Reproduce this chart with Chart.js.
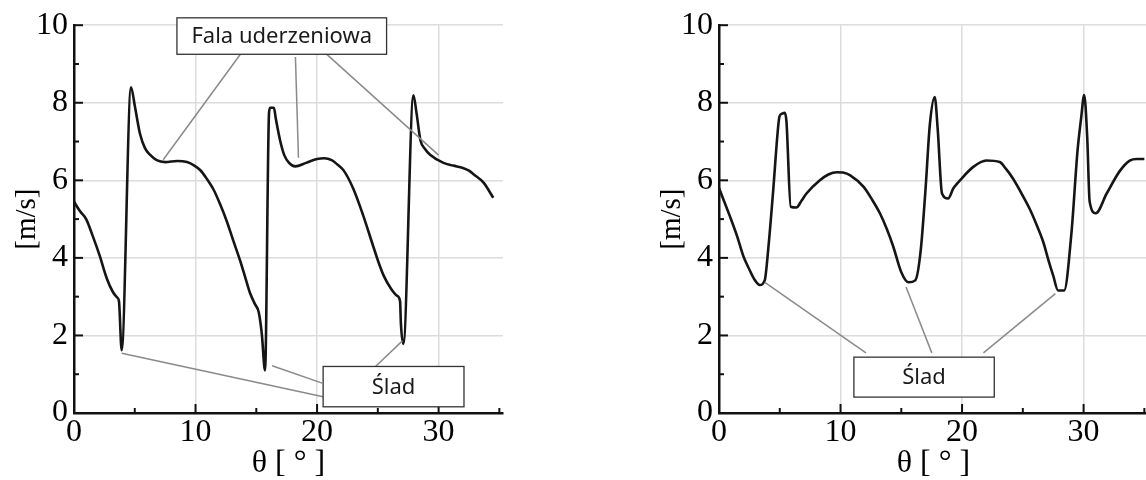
<!DOCTYPE html>
<html>
<head>
<meta charset="utf-8">
<script src="https://cdn.jsdelivr.net/npm/chart.js@4"></script>
<style>
  html, body { margin: 0; padding: 0; background: #fff; overflow: hidden; width: 1146px; height: 480px; }
  canvas { position: absolute; top: 0; }
  #lewy { left: 0; }
  #prawy { left: 645px; }
</style>
</head>
<body>
<canvas id="lewy" width="520" height="480"></canvas>
<canvas id="prawy" width="520" height="480"></canvas>
<script>
// dane
const xTicks = [0, 10, 20, 30];
const yTicks = [0, 2, 4, 6, 8, 10];
const xMinor = [5, 15, 25, 35];
const yMinor = [1, 3, 5, 7, 9];

const leftTheta = [0, 0.5, 1.0, 1.5, 2.1, 2.7, 3.2, 3.55, 3.7, 3.92, 4.69, 5.02, 5.43, 5.84, 6.25, 6.8, 7.5, 8.5, 9.3, 9.9, 10.4, 10.9, 11.5, 12.0, 12.6, 13.1, 13.7, 14.2, 14.5, 14.9, 15.2, 15.45, 15.72, 16.05, 16.15, 16.45, 16.6, 16.95, 17.3, 17.7, 18.2, 19.1, 20.0, 20.6, 21.2, 21.7, 22.2, 23.0, 23.8, 24.6, 25.1, 25.5, 26.1, 26.6, 26.83, 26.9, 27.1, 27.93, 28.2, 28.5, 28.9, 29.3, 30.4, 31.2, 32.0, 32.5, 32.9, 33.7, 34.5];
const leftSpeed = [5.45, 5.2, 5.0, 4.6, 4.07, 3.47, 3.12, 2.98, 2.88, 1.62, 8.4, 7.89, 7.2, 6.83, 6.66, 6.52, 6.47, 6.5, 6.47, 6.38, 6.26, 6.05, 5.75, 5.4, 4.92, 4.45, 3.9, 3.38, 3.08, 2.8, 2.6, 2.05, 1.1, 7.75, 7.87, 7.87, 7.6, 7.04, 6.65, 6.45, 6.36, 6.45, 6.55, 6.57, 6.52, 6.4, 6.25, 5.77, 5.09, 4.32, 3.85, 3.53, 3.2, 3.02, 2.88, 2.3, 1.78, 8.19, 7.7, 7.04, 6.8, 6.66, 6.45, 6.38, 6.32, 6.25, 6.15, 5.94, 5.55];

const rightTheta = [0, 0.9, 1.5, 2.0, 2.5, 2.9, 3.35, 3.76, 4.05, 4.45, 4.86, 4.98, 5.2, 5.41, 5.55, 5.9, 6.37, 6.8, 7.2, 8.3, 9.0, 9.7, 10.2, 10.8, 11.9, 12.6, 13.24, 13.8, 14.33, 15.0, 15.6, 16.15, 16.6, 17.0, 17.35, 17.75, 18.0, 18.35, 18.85, 19.3, 19.83, 20.9, 22.0, 23.1, 23.6, 24.2, 25.0, 25.6, 26.2, 26.7, 27.1, 27.5, 27.9, 28.4, 29.0, 29.5, 29.8, 30.05, 30.3, 30.5, 31.0, 31.9, 33.0, 33.8, 34.4, 35.0];
const rightSpeed = [5.8, 5.07, 4.55, 4.05, 3.7, 3.45, 3.3, 3.42, 4.22, 5.7, 7.36, 7.65, 7.72, 7.74, 7.52, 5.32, 5.3, 5.48, 5.66, 6.0, 6.15, 6.21, 6.2, 6.13, 5.83, 5.5, 5.15, 4.75, 4.3, 3.63, 3.37, 3.42, 4.2, 5.8, 7.44, 8.15, 7.3, 5.66, 5.53, 5.8, 6.0, 6.34, 6.51, 6.47, 6.3, 6.04, 5.6, 5.24, 4.8, 4.39, 3.95, 3.54, 3.16, 3.16, 4.64, 6.76, 7.61, 8.2, 7.1, 5.45, 5.15, 5.66, 6.25, 6.51, 6.55, 6.55];

// podpisy: [x1, y1, x2, y2] w jednostkach osi
const leftLeaders = [
  [13.69, 9.25, 7.34, 6.53],
  [18.22, 9.18, 18.47, 6.58],
  [20.69, 9.28, 30.0, 6.65],
  [3.93, 1.54, 20.5, 0.42],
  [16.3, 1.22, 20.42, 0.77],
  [27.02, 1.86, 24.81, 1.2]
];
const leftBoxes = [
  { text: "Fala uderzeniowa", x1: 8.47, y1: 10.19, x2: 25.72, y2: 9.25 },
  { text: "Ślad", x1: 20.5, y1: 1.2, x2: 32.09, y2: 0.16 }
];
const rightLeaders = [
  [3.77, 3.37, 12.09, 1.55],
  [15.39, 3.25, 17.51, 1.55],
  [27.68, 3.08, 21.76, 1.55]
];
const rightBoxes = [
  { text: "Ślad", x1: 11.1, y1: 1.44, x2: 22.65, y2: 0.41 }
];

const serif = "'Liberation Serif', 'DejaVu Serif', serif";

const decor = {
  id: "decor",
  afterDraw(chart, args, opts) {
    const ctx = chart.ctx;
    const x = chart.scales.x, y = chart.scales.y;
    ctx.save();
    // kreski podziałki do wewnątrz
    ctx.strokeStyle = "#111";
    ctx.lineWidth = 2;
    const mark = (x1, y1, x2, y2) => { ctx.beginPath(); ctx.moveTo(x1, y1); ctx.lineTo(x2, y2); ctx.stroke(); };
    for (const v of xTicks) { const p = x.getPixelForValue(v); mark(p, y.bottom, p, y.bottom - 9); }
    for (const v of xMinor) { const p = x.getPixelForValue(v); mark(p, y.bottom, p, y.bottom - 5); }
    for (const v of yTicks) { const p = y.getPixelForValue(v); mark(x.left, p, x.left + 9, p); }
    for (const v of yMinor) { const p = y.getPixelForValue(v); mark(x.left, p, x.left + 5, p); }

    ctx.strokeStyle = "#8a8a8a";
    ctx.lineWidth = 1.5;
    for (const [a, b, c, d] of opts.leaders) {
      mark(x.getPixelForValue(a), y.getPixelForValue(b), x.getPixelForValue(c), y.getPixelForValue(d));
    }
    for (const bx of opts.boxes) {
      const l = x.getPixelForValue(bx.x1), r = x.getPixelForValue(bx.x2);
      const t = y.getPixelForValue(bx.y1), btm = y.getPixelForValue(bx.y2);
      ctx.fillStyle = "#fff";
      ctx.fillRect(l, t, r - l, btm - t);
      ctx.strokeStyle = "#333";
      ctx.lineWidth = 1.3;
      ctx.strokeRect(l, t, r - l, btm - t);
      ctx.fillStyle = "#1a1a1a";
      ctx.font = "22px 'Noto Sans', sans-serif";
      ctx.textAlign = "center";
      ctx.textBaseline = "middle";
      ctx.fillText(bx.text, (l + r) / 2, (t + btm) / 2 + 1);
    }
    ctx.restore();
  }
};

function makeChart(id, theta, speed, leaders, boxes) {
  const pts = theta.map((t, i) => ({ x: t, y: speed[i] }));
  return new Chart(document.getElementById(id), {
    type: "scatter",
    data: {
      datasets: [{
        data: pts,
        showLine: true,
        borderColor: "#151515",
        borderWidth: 2.6,
        pointRadius: 0,
        cubicInterpolationMode: "monotone"
      }]
    },
    options: {
      responsive: false,
      animation: false,
      layout: { padding: { left: 0, right: 17, top: 20, bottom: 0 } },
      plugins: {
        legend: { display: false },
        tooltip: { enabled: false },
        decor: { leaders: leaders, boxes: boxes }
      },
      scales: {
        x: {
          type: "linear",
          min: 0,
          max: 35.3,
          afterBuildTicks: s => { s.ticks = xTicks.map(v => ({ value: v })); },
          afterFit: s => { s.height = 67; },
          ticks: { font: { family: serif, size: 32, lineHeight: 1 }, color: "#000", padding: 4, maxRotation: 0, autoSkip: false },
          grid: { color: "#dcdcdc", lineWidth: 1.5, drawTicks: false },
          border: { color: "#111", width: 2.5 },
          title: { display: true, text: "θ [ ° ]", color: "#000", font: { family: serif, size: 32, lineHeight: 1 }, padding: { top: 0, bottom: 0 } }
        },
        y: {
          type: "linear",
          min: 0,
          max: 10,
          afterBuildTicks: s => { s.ticks = yTicks.map(v => ({ value: v })); },
          afterFit: s => { s.width = 74; },
          ticks: { font: { family: serif, size: 32 }, color: "#000", padding: 6 },
          grid: { color: "#dcdcdc", lineWidth: 1.5, drawTicks: false },
          border: { color: "#111", width: 2.5 },
          title: { display: true, text: "[m/s]", color: "#000", font: { family: serif, size: 29, lineHeight: 1 }, padding: { top: 13, bottom: 13 } }
        }
      }
    },
    plugins: [decor]
  });
}

makeChart("lewy", leftTheta, leftSpeed, leftLeaders, leftBoxes);
makeChart("prawy", rightTheta, rightSpeed, rightLeaders, rightBoxes);
</script>
</body>
</html>
